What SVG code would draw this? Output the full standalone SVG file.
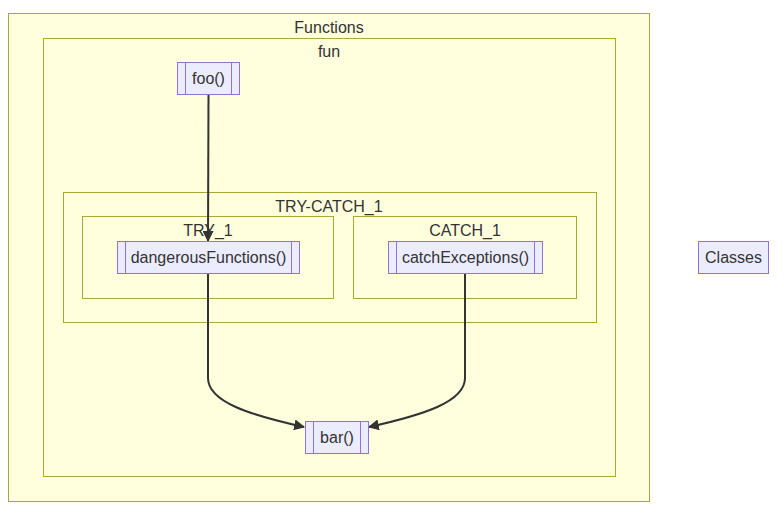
<svg xmlns="http://www.w3.org/2000/svg" width="784" height="515" viewBox="0 0 784 515">
<style>
.cl{fill:#ffffde;stroke:#aaaa33;stroke-width:1}
.nd{fill:#ececff;stroke:#9370db;stroke-width:1}
.sl{stroke:#9370db;stroke-width:1;fill:none}
.t{font-family:"Liberation Sans",Arial,sans-serif;font-size:16px;fill:#333;text-anchor:middle;dominant-baseline:central}
.e{fill:none;stroke:#333;stroke-width:2}
</style>
<defs>
<marker id="ah" viewBox="0 0 10 10" refX="9" refY="5" markerWidth="11" markerHeight="11" markerUnits="userSpaceOnUse" orient="auto">
<path d="M0,0 L10,5 L0,10 z" fill="#333"/>
</marker>
</defs>
<rect width="784" height="515" fill="#fff"/>
<g id="Functions">
<rect class="cl" x="8.5" y="13.5" width="641" height="488"/>
<text class="t" x="329" y="27">Functions</text>
</g>
<g id="fun">
<rect class="cl" x="43.5" y="38.5" width="572" height="438"/>
<text class="t" x="329" y="51">fun</text>
</g>
<g id="TRY-CATCH_1">
<rect class="cl" x="63.5" y="192.5" width="533" height="130"/>
<text class="t" x="329" y="206">TRY-CATCH_1</text>
</g>
<g id="TRY_1">
<rect class="cl" x="82.5" y="216.5" width="251" height="82"/>
<text class="t" x="208" y="230">TRY_1</text>
</g>
<g id="CATCH_1">
<rect class="cl" x="353.5" y="216.5" width="223" height="82"/>
<text class="t" x="465" y="230">CATCH_1</text>
</g>
<g id="edges">
<path class="e" d="M208.5,94 L208,241" marker-end="url(#ah)"/>
<path class="e" d="M208,273 L208,378 C208,402 250,415 304,427" marker-end="url(#ah)"/>
<path class="e" d="M465,273 L465,378 C465,402 423,415 369,427" marker-end="url(#ah)"/>
</g>
<g id="foo">
<rect class="nd" x="177.5" y="62.5" width="62" height="32"/>
<path class="sl" d="M185.5,62.5 V94.5 M231.5,62.5 V94.5"/>
<text class="t" x="208.5" y="78">foo()</text>
</g>
<g id="dangerousFunctions">
<rect class="nd" x="117.5" y="241.5" width="182" height="32"/>
<path class="sl" d="M125.5,241.5 V273.5 M291.5,241.5 V273.5"/>
<text class="t" x="208.5" y="257">dangerousFunctions()</text>
</g>
<g id="catchExceptions">
<rect class="nd" x="388.5" y="241.5" width="154" height="32"/>
<path class="sl" d="M396.5,241.5 V273.5 M534.5,241.5 V273.5"/>
<text class="t" x="465.5" y="257">catchExceptions()</text>
</g>
<g id="bar">
<rect class="nd" x="305.5" y="421.5" width="63" height="32"/>
<path class="sl" d="M313.5,421.5 V453.5 M360.5,421.5 V453.5"/>
<text class="t" x="337" y="437">bar()</text>
</g>
<g id="Classes">
<rect class="nd" x="698.5" y="241.5" width="70" height="32"/>
<text class="t" x="733.5" y="257">Classes</text>
</g>
</svg>
